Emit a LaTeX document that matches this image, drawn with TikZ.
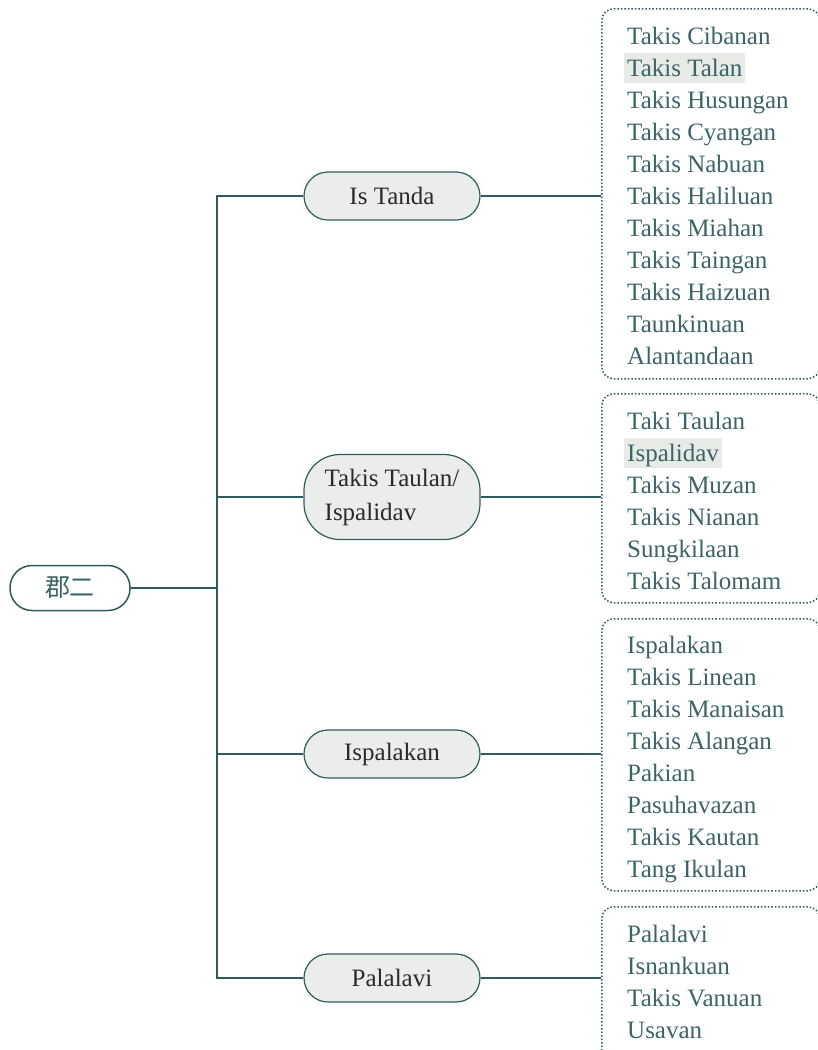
\documentclass[tikz,border=0pt]{standalone}
\usepackage{fontspec}
\setmainfont{Liberation Serif}
\newfontfamily\cjkfont{Noto Sans CJK TC}
\usetikzlibrary{positioning}

\definecolor{mapteal}{HTML}{2F5B5F}
\definecolor{leafink}{HTML}{3B6468}
\definecolor{topicink}{HTML}{2A2A2A}
\definecolor{topicfill}{HTML}{EBEDEA}
\definecolor{markfill}{HTML}{E8EAE6}

\tikzset{
  rootnode/.style={draw=mapteal, line width=1.5pt, fill=white, rounded corners=22pt,
    minimum width=120pt, minimum height=45pt, inner sep=0pt, text=leafink,
    font=\cjkfont\fontsize{25}{30}\selectfont},
  topicnode/.style={draw=mapteal, line width=1.2pt, fill=topicfill, rounded corners=24pt,
    minimum width=176pt, minimum height=48pt, inner sep=0pt, text=topicink,
    font=\fontsize{25}{34}\selectfont},
  leafbox/.style={draw=mapteal, dotted, line width=1.5pt, rounded corners=12pt,
    inner sep=0pt, anchor=north west, minimum width=218pt},
  leaf/.style={anchor=base west, inner xsep=3pt, inner ysep=0.5pt, text height=23pt,
    text depth=6pt, text=leafink, font=\fontsize{25}{30}\selectfont},
  marked/.style={leaf, fill=markfill},
  trunk/.style={draw=mapteal, line width=2.5pt},
  twig/.style={draw=mapteal, line width=1.2pt},
}

\begin{document}
\begin{tikzpicture}[x=1pt, y=-1pt]

    % --- Page ---
    \useasboundingbox (0,0) rectangle (817,1050);

    % --- Root and trunk ---
    \node[rootnode] (root) at (70,588) {郡二};
    \coordinate (T) at (217,588);

    % --- Topics ---
    \node[topicnode] (tanda) at (392,196) {Is Tanda};
    \node[topicnode, minimum height=85pt, rounded corners=36pt, align=left] (taulan) at (392,497) {Takis Taulan/\\Ispalidav};
    \node[topicnode] (spalakan) at (392,754) {Ispalakan};
    \node[topicnode] (palalavi) at (392,978) {Palalavi};

    % --- Trunk connectors ---
    \draw[trunk] (root.east) -- (T);
    \foreach \n in {tanda, taulan, spalakan, palalavi}
        \draw[trunk] (T) |- (\n.west);

    % --- Dotted boxes ---
    \node[leafbox, minimum height=370pt] (box1) at (601,8) {};
    \node[leafbox, minimum height=209pt] (box2) at (601,393) {};
    \node[leafbox, minimum height=272pt] (box3) at (601,618) {};
    \node[leafbox, minimum height=160pt] (box4) at (601,906) {};

    % --- Topic to box ---
    \draw[twig] (tanda.east) -- (tanda.east -| box1.west);
    \draw[twig] (taulan.east) -- (taulan.east -| box2.west);
    \draw[twig] (spalakan.east) -- (spalakan.east -| box3.west);
    \draw[twig] (palalavi.east) -- (palalavi.east -| box4.west);

    % --- Leaves ---
    \foreach \t/\s [count=\k from 0] in {Takis Cibanan/leaf, Takis Talan/marked,
        Takis Husungan/leaf, Takis Cyangan/leaf, Takis Nabuan/leaf, Takis Haliluan/leaf,
        Takis Miahan/leaf, Takis Taingan/leaf, Takis Haizuan/leaf, Taunkinuan/leaf,
        Alantandaan/leaf}
        \node[\s] (leafA-\k) at (624, 44+32*\k) {\t};

    \foreach \t/\s [count=\k from 0] in {Taki Taulan/leaf, Ispalidav/marked,
        Takis Muzan/leaf, Takis Nianan/leaf, Sungkilaan/leaf, Takis Talomam/leaf}
        \node[\s] (leafB-\k) at (624, 429+32*\k) {\t};

    \foreach \t [count=\k from 0] in {Ispalakan, Takis Linean, Takis Manaisan,
        Takis Alangan, Pakian, Pasuhavazan, Takis Kautan, Tang Ikulan}
        \node[leaf] (leafC-\k) at (624, 653+32*\k) {\t};

    \foreach \t [count=\k from 0] in {Palalavi, Isnankuan, Takis Vanuan, Usavan}
        \node[leaf] (leafD-\k) at (624, 942+32*\k) {\t};

\end{tikzpicture}
\end{document}
